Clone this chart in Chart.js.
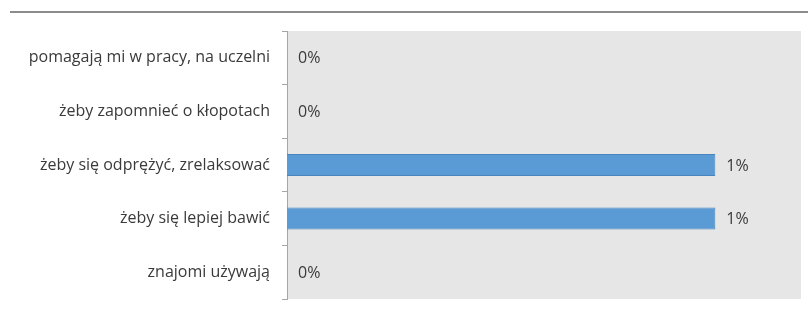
<!DOCTYPE html>
<html>
<head>
<meta charset="utf-8">
<script src="https://cdn.jsdelivr.net/npm/chart.js@4"></script>
<style>
  html, body { margin: 0; padding: 0; background: #fff; }
  #wrap { width: 808px; height: 311px; position: relative; }
</style>
</head>
<body>
<div id="wrap"><canvas id="chart"></canvas></div>
<script>
const categories = [
    'pomagają mi w pracy, na uczelni',
    'żeby zapomnieć o kłopotach',
    'żeby się odprężyć, zrelaksować',
    'żeby się lepiej bawić',
    'znajomi używają'
];
const values = [0, 0, 1, 1, 0];
const valueLabels = ['0%', '0%', '1%', '1%', '0%'];

const TEXT = '#3a3a3a';
const FONT = '"Open Sans", sans-serif';

// grey plot background + the line across the top
const backdrop = {
    id: 'backdrop',
    beforeDraw(chart) {
        const { ctx, chartArea: a } = chart;
        ctx.save();
        ctx.fillStyle = '#e6e6e6';
        ctx.fillRect(a.left, a.top, a.right - a.left, a.bottom - a.top);
        ctx.strokeStyle = '#8c8c8c';
        ctx.lineWidth = 2;
        ctx.beginPath();
        ctx.moveTo(10, 12);
        ctx.lineTo(chart.width, 12);
        ctx.stroke();
        ctx.restore();
    }
};

// value labels to the right of each bar
const barLabels = {
    id: 'barLabels',
    afterDatasetsDraw(chart) {
        const { ctx } = chart;
        const meta = chart.getDatasetMeta(0);
        ctx.save();
        ctx.fillStyle = TEXT;
        ctx.font = '16px ' + FONT;
        ctx.textAlign = 'left';
        ctx.textBaseline = 'middle';
        meta.data.forEach((bar, i) => {
            ctx.fillText(valueLabels[i], bar.x + 11, bar.y + 1);
        });
        ctx.restore();
    }
};

new Chart(document.getElementById('chart'), {
    type: 'bar',
    data: {
        labels: categories,
        datasets: [{
            data: values,
            backgroundColor: '#5b9bd5',
            borderColor: '#4a84bd',
            borderWidth: 1,
            barPercentage: 0.41,
            categoryPercentage: 1
        }]
    },
    options: {
        indexAxis: 'y',
        responsive: true,
        maintainAspectRatio: false,
        animation: false,
        layout: { padding: { left: 0, top: 31, right: 7, bottom: 12 } },
        plugins: {
            legend: { display: false },
            tooltip: { enabled: false }
        },
        scales: {
            x: {
                display: false,
                min: 0,
                max: 1.2
            },
            y: {
                afterFit: (scale) => {
                    scale.width = 287;
                    scale.paddingTop = 0;
                    scale.paddingBottom = 0;
                },
                grid: {
                    offset: true,
                    drawOnChartArea: false,
                    drawTicks: true,
                    tickLength: 5,
                    color: '#a6a6a6'
                },
                border: { display: true, color: '#a6a6a6', width: 1 },
                ticks: {
                    color: TEXT,
                    padding: 12,
                    font: { family: FONT, size: 16 }
                }
            }
        }
    },
    plugins: [backdrop, barLabels]
});
</script>
</body>
</html>
